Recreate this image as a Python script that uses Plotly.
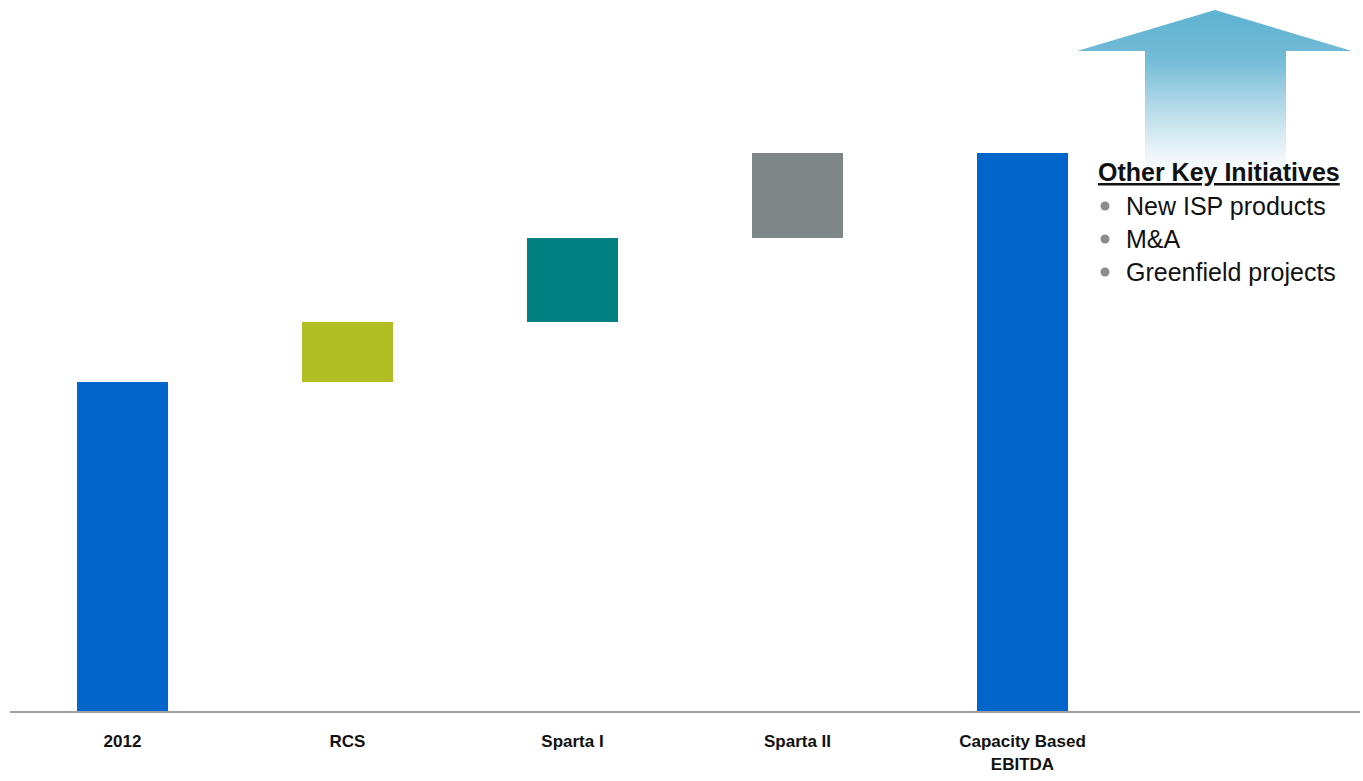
import plotly.graph_objects as go

# ---- data ----
categories = ["2012", "RCS", "Sparta I", "Sparta II", "Capacity Based<br>EBITDA"]
kinds = ["total", "delta", "delta", "delta", "total"]
values = [329, 60, 84, 85, 558]
bar_colors = ["#0066CC", "#B1BF24", "#008080", "#7F8688", "#0066CC"]

initiatives_title = "Other Key Initiatives"
initiatives = ["New ISP products", "M&A", "Greenfield projects"]

# compute bases for floating (waterfall) bars
bases, heights = [], []
running = 0
for k, v in zip(kinds, values):
    if k == "total":
        bases.append(0)
        heights.append(v)
        running = v
    else:
        bases.append(running)
        heights.append(v)
        running += v

x_pos = list(range(len(categories)))

fig = go.Figure()
fig.add_trace(go.Bar(
    x=x_pos, y=heights, base=bases,
    marker=dict(color=bar_colors, line=dict(width=0)),
    width=0.405, showlegend=False, hoverinfo="skip",
))

# ---- decorative arrow (pixel-like overlay axes) ----
W0, W1 = 10, 1360  # overlay x-range in page pixels
arrow_x = [1215, 1352, 1286, 1286, 1145, 1145, 1077, 1215]
arrow_y_px = [10, 51, 51, 185, 185, 51, 51, 10]
arrow_y = [711 - v for v in arrow_y_px]
fig.add_trace(go.Scatter(
    x=arrow_x, y=arrow_y, xaxis="x2", yaxis="y2",
    mode="lines", line=dict(width=0, color="rgba(0,0,0,0)"),
    fill="toself",
    fillgradient=dict(
        type="vertical",
        colorscale=[[0, "rgba(255,255,255,1)"], [0.15, "#f2f8fb"],
                    [0.45, "#b3d9e8"], [0.72, "#73bbd7"], [1, "#5db2d2"]],
    ),
    showlegend=False, hoverinfo="skip",
))

# bullets
bullet_y_px = [206, 239, 272]
fig.add_trace(go.Scatter(
    x=[1105] * len(initiatives), y=[711 - v for v in bullet_y_px],
    xaxis="x2", yaxis="y2", mode="markers",
    marker=dict(size=9, color="#8C8C8C"),
    showlegend=False, hoverinfo="skip",
))

FONT = "Liberation Sans"
annotations = [dict(
    x=1096, y=711 - 172, xref="x2", yref="y2", xanchor="left", yanchor="middle",
    text="<b><u>" + initiatives_title + "</u></b>", showarrow=False,
    font=dict(family=FONT, size=25, color="#111111"),
)]
for t, yp in zip(initiatives, bullet_y_px):
    annotations.append(dict(
        x=1124, y=711 - yp, xref="x2", yref="y2", xanchor="left", yanchor="middle",
        text=t, showarrow=False,
        font=dict(family=FONT, size=25, color="#111111"),
    ))

fig.update_layout(
    width=1363, height=781,
    margin=dict(l=10, r=3, t=0, b=70),
    paper_bgcolor="white", plot_bgcolor="white",
    bargap=0,
    xaxis=dict(
        range=[-0.5, 5.5], tickvals=x_pos,
        ticktext=["<b>" + c + "</b>" for c in categories],
        tickfont=dict(family=FONT, size=17, color="#111111"),
        showgrid=False, zeroline=False, showline=True,
        linecolor="#A0A0A0", linewidth=2, ticks="", ticklabelstandoff=14,
    ),
    yaxis=dict(range=[0, 711], visible=False, showgrid=False, zeroline=False),
    xaxis2=dict(range=[W0, W1], overlaying="x", visible=False, anchor="y2"),
    yaxis2=dict(range=[0, 711], overlaying="y", visible=False, anchor="x2"),
    annotations=annotations,
)

fig.write_html("out.html")
